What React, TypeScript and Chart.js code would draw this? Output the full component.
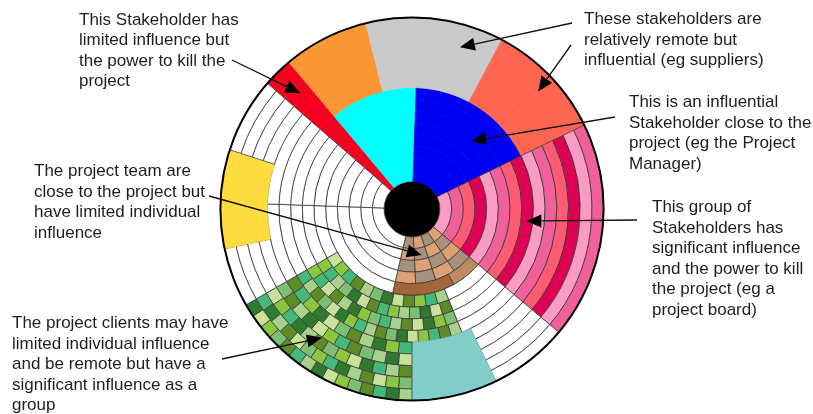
import React, { useEffect, useRef } from 'react';
import { Chart, registerables } from 'chart.js';

Chart.register(...registerables);

// ---------- data ----------
const RING_COUNT = 14;          // concentric rings between hole and rim
const HOLE_WEIGHT = 2.39;       // hole radius measured in ring widths
const START_ANGLE = 311;        // chart rotation (deg, clockwise from top)
const WHITE = '#FFFFFF';
const LINE = '#3a3a3a';

// stakeholder groups: angular extent (deg, clockwise from 12 o'clock) and ring extent
const groupNames = ['Project manager', 'Remote influencer', 'Suppliers', 'Close stakeholder', 'Remote stakeholder',
  'Veto holder', 'Project board', 'Project team', 'Clients (near)', 'Clients (far)', 'Remote group', 'Remote individual'];
const groupStart = [2, 28, 346, 320, 320, 311, 64, 130, 158, 180, 154, 258];
const groupEnd = [64, 64, 28, 2, 346, 320, 130, 193, 240, 240, 180, 288];
const groupInnerRing = [0, 8, 8, 0, 8, 0, 0, 0, 5, 9, 9, 10];
const groupOuterRing = [8, 14, 14, 8, 14, 14, 14, 5, 9, 14, 14, 14];
const groupColour = ['#0000F2', '#FF6650', '#C9C9C9', '#00FFFF', '#FA9633', '#F5001E',
  'pink', 'brown', 'green', 'green', '#80CDC9', '#FFDC3E'];
const whiteDividers = [272];

// board members: one shade per ring (innermost first)
const pinkShades = ['#FC9CC3', '#F2609C', '#FF5C74', '#DE0052'];

// project team cells, per ring (innermost first), from the 130° side
const brownShades: Record<string, string> = { T: '#DDA274', G: '#A8907E', D: '#A3663B', L: '#BE8A5E' };
const brownRows = ['TGTG', 'GTGT', 'TGTG', 'GTGT', 'LDD'];

// client cells, rings 5..13, from the clockwise-first side
const greenPalette = ['#2F7A2E', '#5E8A28', '#8CC63F', '#A9D18E', '#C9E29A', '#45B97C', '#7DBF72'];
const greenRows = [
  '352140631524',
  '14063251406352',
  '620413562031452',
  '31524061352046135',
  '52031640251',
  '403615240316',
  '1350426130524',
  '62413052641305',
  '305162403516240',
];

// annotations
const noteLines = [
  ['This Stakeholder has', 'limited influence but', 'the power to kill the', 'project'],
  ['These stakeholders are', 'relatively remote but', 'influential (eg suppliers)'],
  ['This is an influential', 'Stakeholder close to the', 'project (eg the Project', 'Manager)'],
  ['This group of', 'Stakeholders has', 'significant influence', 'and the power to kill', 'the project (eg a', 'project board)'],
  ['The project team are', 'close to the project but', 'have limited individual', 'influence'],
  ['The project clients may have', 'limited individual influence', 'and be remote but have a', 'significant influence as a', 'group'],
];
const noteX = [79, 584, 629, 652, 34, 12];
const noteBaseline = [24.5, 24, 107, 212, 176, 328];

const arrowStart: [number, number][] = [[232, 60], [572, 23], [571, 45], [615, 117], [637, 220], [209, 196], [222, 359]];
const arrowTipAngle = [316, 16.5, 47, 41, 96, 168, 215];
const arrowTipRadius = [0.84, 0.88, 0.9, 0.47, 0.6, 0.245, 0.82];

// ---------- build rings ----------
type Seg = { start: number; span: number; color: string; border: string };
const mod = (x: number) => ((x % 360) + 360) % 360;

function ringSegments(ring: number): Seg[] {
  const segs: Seg[] = [];
  groupStart.forEach((s, g) => {
    if (ring < groupInnerRing[g] || ring >= groupOuterRing[g]) return;
    const a = mod(s - START_ANGLE);
    const span = mod(groupEnd[g] - s);
    const kind = groupColour[g];
    if (kind === 'pink') {
      segs.push({ start: a, span, color: pinkShades[ring % 4], border: LINE });
    } else if (kind === 'brown' || kind === 'green') {
      const codes = kind === 'brown' ? brownRows[ring - groupInnerRing[g]] : greenRows[ring - 5];
      const unit = span / codes.length;
      let i = 0;
      while (i < codes.length) {
        let j = i;
        while (j < codes.length && codes[j] === codes[i]) j++;
        const color = kind === 'brown' ? brownShades[codes[i]] : greenPalette[Number(codes[i])];
        segs.push({ start: a + i * unit, span: (j - i) * unit, color, border: LINE });
        i = j;
      }
    } else {
      segs.push({ start: a, span, color: kind, border: kind });
    }
  });
  segs.sort((x, y) => x.start - y.start);
  const divs = whiteDividers.map((d) => mod(d - START_ANGLE)).sort((a, b) => a - b);
  const out: Seg[] = [];
  const pushWhite = (from: number, to: number) => {
    let f = from;
    for (const d of divs) {
      if (d > f + 0.01 && d < to - 0.01) {
        out.push({ start: f, span: d - f, color: WHITE, border: LINE });
        f = d;
      }
    }
    if (to - f > 0.01) out.push({ start: f, span: to - f, color: WHITE, border: LINE });
  };
  let cur = 0;
  for (const s of segs) {
    if (s.start > cur + 0.01) pushWhite(cur, s.start);
    out.push(s);
    cur = s.start + s.span;
  }
  if (cur < 360 - 0.01) pushWhite(cur, 360);
  return out;
}

const overlay = {
  id: 'overlay',
  afterDraw(chart: any) {
    const ctx: CanvasRenderingContext2D = chart.ctx;
    const arc = chart.getDatasetMeta(0).data[0] as any;
    const cx = arc.x, cy = arc.y, R = arc.outerRadius;
    ctx.save();
    ctx.beginPath();
    ctx.arc(cx, cy, R, 0, Math.PI * 2);
    ctx.lineWidth = 2;
    ctx.strokeStyle = '#000';
    ctx.stroke();

    arrowTipAngle.forEach((deg, i) => {
      const t = (deg * Math.PI) / 180;
      const r = R * arrowTipRadius[i];
      const tx = cx + r * Math.sin(t);
      const ty = cy - r * Math.cos(t);
      const [sx, sy] = arrowStart[i];
      const ang = Math.atan2(ty - sy, tx - sx);
      const L = 15, W = 6.5;
      const bx = tx - L * Math.cos(ang), by = ty - L * Math.sin(ang);
      ctx.beginPath();
      ctx.moveTo(sx, sy);
      ctx.lineTo(bx, by);
      ctx.lineWidth = 1.3;
      ctx.strokeStyle = '#111';
      ctx.stroke();
      ctx.beginPath();
      ctx.moveTo(tx, ty);
      ctx.lineTo(bx + W * Math.sin(ang), by - W * Math.cos(ang));
      ctx.lineTo(bx - W * Math.sin(ang), by + W * Math.cos(ang));
      ctx.closePath();
      ctx.fillStyle = '#000';
      ctx.fill();
    });

    ctx.font = '17px "Liberation Sans", Arial, sans-serif';
    ctx.fillStyle = '#1e1e1e';
    ctx.textBaseline = 'alphabetic';
    ctx.textAlign = 'left';
    noteLines.forEach((lines, i) => {
      lines.forEach((line, j) => ctx.fillText(line, noteX[i], noteBaseline[i] + j * 20.5));
    });
    ctx.restore();
  },
};

export default function App() {
  const ref = useRef<HTMLCanvasElement>(null);
  useEffect(() => {
    const rings: number[] = [];
    for (let r = RING_COUNT - 1; r >= 0; r--) rings.push(r);
    const datasets: any[] = rings.map((r) => {
      const segs = ringSegments(r);
      return {
        label: 'ring ' + r,
        data: segs.map((s) => s.span),
        backgroundColor: segs.map((s) => s.color),
        borderColor: segs.map((s) => s.border),
        borderWidth: 0.8,
        weight: 1,
      };
    });
    datasets.push({ label: 'hole', data: [360], backgroundColor: ['#000000'], borderColor: ['#000000'], borderWidth: 0.8, weight: HOLE_WEIGHT });

    const chart = new Chart(ref.current as HTMLCanvasElement, {
      type: 'doughnut',
      data: { labels: groupNames, datasets },
      options: {
        animation: false,
        responsive: false,
        rotation: START_ANGLE,
        circumference: 360,
        cutout: 0,
        layout: { padding: { left: 220, right: 209, top: 17, bottom: 13 } },
        plugins: { legend: { display: false }, tooltip: { enabled: false } },
        events: [],
      } as any,
      plugins: [overlay as any],
    });
    return () => chart.destroy();
  }, []);
  return (
    <div style={{ position: 'fixed', left: 0, top: 0, width: 813, height: 414, background: '#fff' }}>
      <canvas ref={ref} width={813} height={414} style={{ width: 813, height: 414, display: 'block' }} />
    </div>
  );
}
